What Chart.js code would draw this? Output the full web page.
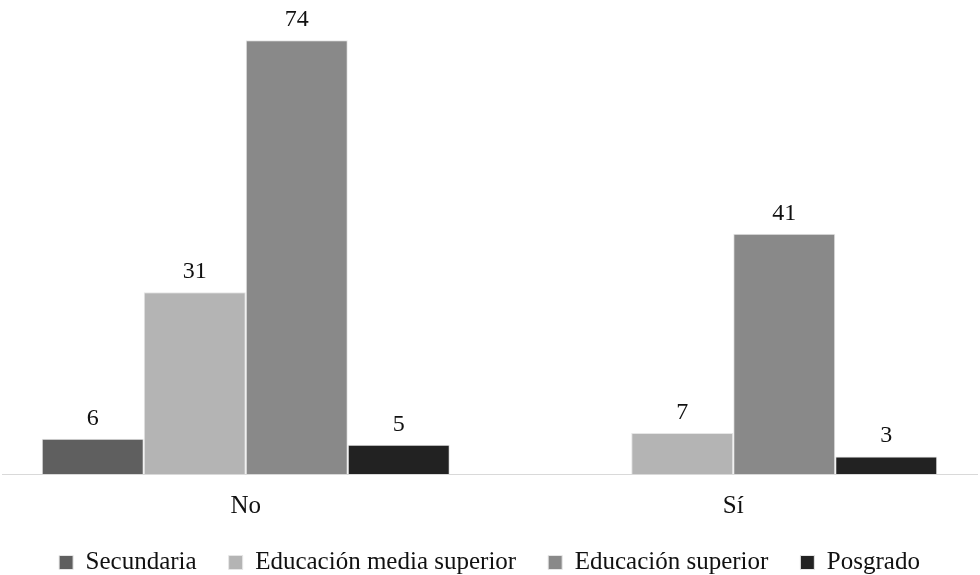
<!DOCTYPE html>
<html>
<head>
<meta charset="utf-8">
<script src="https://cdn.jsdelivr.net/npm/chart.js@4"></script>
<style>
  html, body { margin: 0; padding: 0; background: #fff; }
  #wrap { width: 980px; height: 575px; position: relative; }
</style>
</head>
<body>
<div id="wrap"><canvas id="myChart"></canvas></div>
<script>
// respuestas agrupadas por nivel de estudios
var categories = ["No", "Sí"];
var secundaria = [6, null];
var mediaSuperior = [31, 7];
var superior = [74, 41];
var posgrado = [5, 3];

var serif = "'Liberation Serif', 'Times New Roman', serif";

// numbers over each bar
var valueLabels = {
    id: 'valueLabels',
    afterDatasetsDraw: function(chart) {
        var ctx = chart.ctx;
        ctx.save();
        ctx.font = "24px " + serif;
        ctx.fillStyle = "#111";
        ctx.textAlign = "center";
        ctx.textBaseline = "alphabetic";
        chart.data.datasets.forEach(function(ds, i) {
            chart.getDatasetMeta(i).data.forEach(function(bar, j) {
                var v = ds.data[j];
                if (v === null || v === undefined) return;
                ctx.fillText(v, bar.x, bar.y - 14);
            });
        });
        ctx.restore();
    }
};

function makeSet(label, values, color) {
    return {
        label: label,
        data: values,
        backgroundColor: color,
        borderColor: '#e6e6e6',
        borderWidth: 1,
        categoryPercentage: 0.837,
        barPercentage: 1
    };
}

var chart = new Chart(document.getElementById('myChart').getContext('2d'), {
    type: 'bar',
    data: {
        labels: categories,
        datasets: [
            makeSet("Secundaria", secundaria, "#5f5f5f"),
            makeSet("Educación media superior", mediaSuperior, "#b4b4b4"),
            makeSet("Educación superior", superior, "#898989"),
            makeSet("Posgrado", posgrado, "#222222")
        ]
    },
    options: {
        responsive: true,
        maintainAspectRatio: false,
        animation: false,
        layout: { padding: { left: 2, right: 3, top: 5, bottom: -10 } },
        plugins: {
            legend: {
                position: 'bottom',
                labels: {
                    boxWidth: 14,
                    boxHeight: 14,
                    padding: 32,
                    color: "#111",
                    font: { family: serif, size: 25 }
                }
            },
            tooltip: { enabled: false }
        },
        scales: {
            x: {
                grid: { display: false, drawTicks: false },
                border: { color: '#d9d9d9', width: 1 },
                ticks: {
                    color: "#111",
                    padding: 17,
                    font: { family: serif, size: 25 }
                },
                afterFit: function(axis) {
                    axis.height -= 20;
                }
            },
            y: {
                display: false,
                min: 0,
                max: 80
            }
        }
    },
    plugins: [valueLabels]
});
</script>
</body>
</html>
